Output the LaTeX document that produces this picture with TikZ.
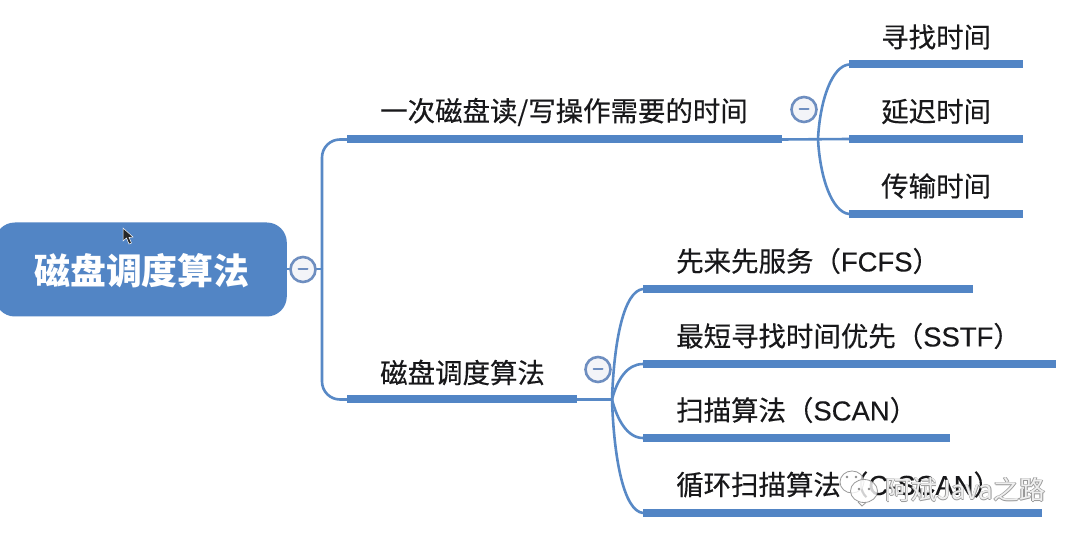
\documentclass[tikz,border=0pt]{standalone}
\usepackage{fontspec}
\setmainfont{Noto Sans CJK SC}
\newfontfamily\lblfont[FakeBold=0.35]{Noto Sans CJK SC}
\newfontfamily\latfont[FakeBold=0.25]{Liberation Sans}
\definecolor{mapblue}{RGB}{82,133,197}
\definecolor{linkblue}{RGB}{88,137,198}
\definecolor{ringblue}{RGB}{110,142,192}
\definecolor{ringfill}{RGB}{243,244,248}
\definecolor{inkdark}{RGB}{24,24,26}
\tikzset{
  bar/.style={fill=mapblue,draw=none,inner sep=0,minimum height=8pt,outer sep=0,anchor=west},
  lbl/.style={inner sep=0,anchor=west,text=inkdark,font=\lblfont\fontsize{27.45}{27}\selectfont},
  link/.style={draw=linkblue,line width=2.6pt},
  fold/.style={circle,draw=ringblue,fill=ringfill,line width=2.6pt,minimum size=25pt,inner sep=0},
  minusbar/.style={draw=ringblue,line width=2pt,line cap=round},
  wm/.style={inner sep=0,anchor=west,text=white,font=\fontsize{26}{26}\selectfont,draw=none}
}
\begin{document}
\begin{tikzpicture}[x=1pt,y=-1pt]
\useasboundingbox[fill=white] (0,0) rectangle (1080,537);
% root
\node[fill=mapblue,rounded corners=20pt,minimum width=292pt,minimum height=94pt,inner sep=0,anchor=east] (root) at (287,269.5) {};
\node[inner sep=0,text=white,font=\fontsize{35.9}{36}\selectfont\bfseries] (roottext) at (142,271) {磁盘调度算法};
% bars
\node[bar,minimum width=435pt] (a) at (347,139.5) {};
\node[bar,minimum width=230pt] (b) at (347,399.5) {};
\node[bar,minimum width=174pt] (a1) at (849,64.5) {};
\node[bar,minimum width=174pt] (a2) at (849,139) {};
\node[bar,minimum width=174pt] (a3) at (849,214) {};
\node[bar,minimum width=330pt] (b1) at (643,289) {};
\node[bar,minimum width=413pt] (b2) at (643,364) {};
\node[bar,minimum width=307pt] (b3) at (643,438) {};
\node[bar,minimum width=399pt] (b4) at (643,513) {};
% junctions
\coordinate (trunk) at (322,269);
\coordinate (ja) at (818,139);
\coordinate (jb) at (612,399.5);
% connectors
\draw[link] (root.east |- trunk) -- (trunk);
\draw[link,rounded corners=18pt] (trunk) -- (trunk |- a.west) -- (a.west);
\draw[link,rounded corners=18pt] (trunk) -- (trunk |- b.west) -- (b.west);
\draw[link] (a.east) -- (a2.west);
\draw[link] (ja) .. controls (820,100) and (832,66) .. (a1.west);
\draw[link] (ja) .. controls (820,178) and (832,212) .. (a3.west);
\draw[link] (b.east) -- (jb);
\draw[link] (jb) .. controls (614,340) and (624,291) .. (b1.west);
\draw[link] (jb) .. controls (617,380) and (627,364) .. (b2.west);
\draw[link] (jb) .. controls (617,419) and (627,438) .. (b3.west);
\draw[link] (jb) .. controls (614,460) and (624,511) .. (b4.west);
% fold markers
\node[fold] (f0) at (303,269.5) {};
\node[fold] (f1) at (804,109.5) {};
\node[fold] (f2) at (598,369.5) {};
\foreach \f in {f0,f1,f2}{\draw[minusbar] ([xshift=-4.5pt]\f.center) -- ([xshift=4.5pt]\f.center);}
% labels
\node[lbl] (ta) at (380,112) {一次磁盘读/写操作需要的时间};
\node[lbl] (tb) at (380,372.5) {磁盘调度算法};
\node[lbl] (ta1) at (881,37) {寻找时间};
\node[lbl] (ta2) at (881,111.5) {延迟时间};
\node[lbl] (ta3) at (881,186) {传输时间};
\node[lbl] (tb1) at (676,261) {先来先服务（{\latfont FCFS}）};
\node[lbl] (tb2) at (676,336) {最短寻找时间优先（{\latfont SSTF}）};
\node[lbl] (tb3) at (676,410) {扫描算法（{\latfont SCAN}）};
\node[lbl] (tb4) at (676,484.5) {循环扫描算法（{\latfont C-SCAN}）};
% cursor
\fill[black!85,draw=white,line width=.5pt] (123,228) -- (123,241) -- (126.5,238) -- (129,244) -- (131.5,243) -- (129,237.5) -- (133,237) -- cycle;
% watermark
\draw[black!40,fill=white,fill opacity=.7,line width=.8pt] (852,482) ellipse (12 and 11);
\draw[black!40,fill=white,fill opacity=.8,line width=.8pt] (864,491) ellipse (13.5 and 11.5);
\draw[black!40,line width=.8pt] (858,502) -- (862,506) -- (866,502.5);
\fill[black!45] (847,477) circle (1.4) (856,477) circle (1.4) (859,489) circle (1.4) (869,489) circle (1.4);
\foreach \dx/\dy in {-.7/0,.7/0,0/-.7,0/.7}{
  \node[wm,text=black!40] at (885+\dx,490+\dy) {阿斌Java之路};
}
\node[wm,text opacity=.85] (wmark) at (885,490) {阿斌Java之路};
\end{tikzpicture}
\end{document}
